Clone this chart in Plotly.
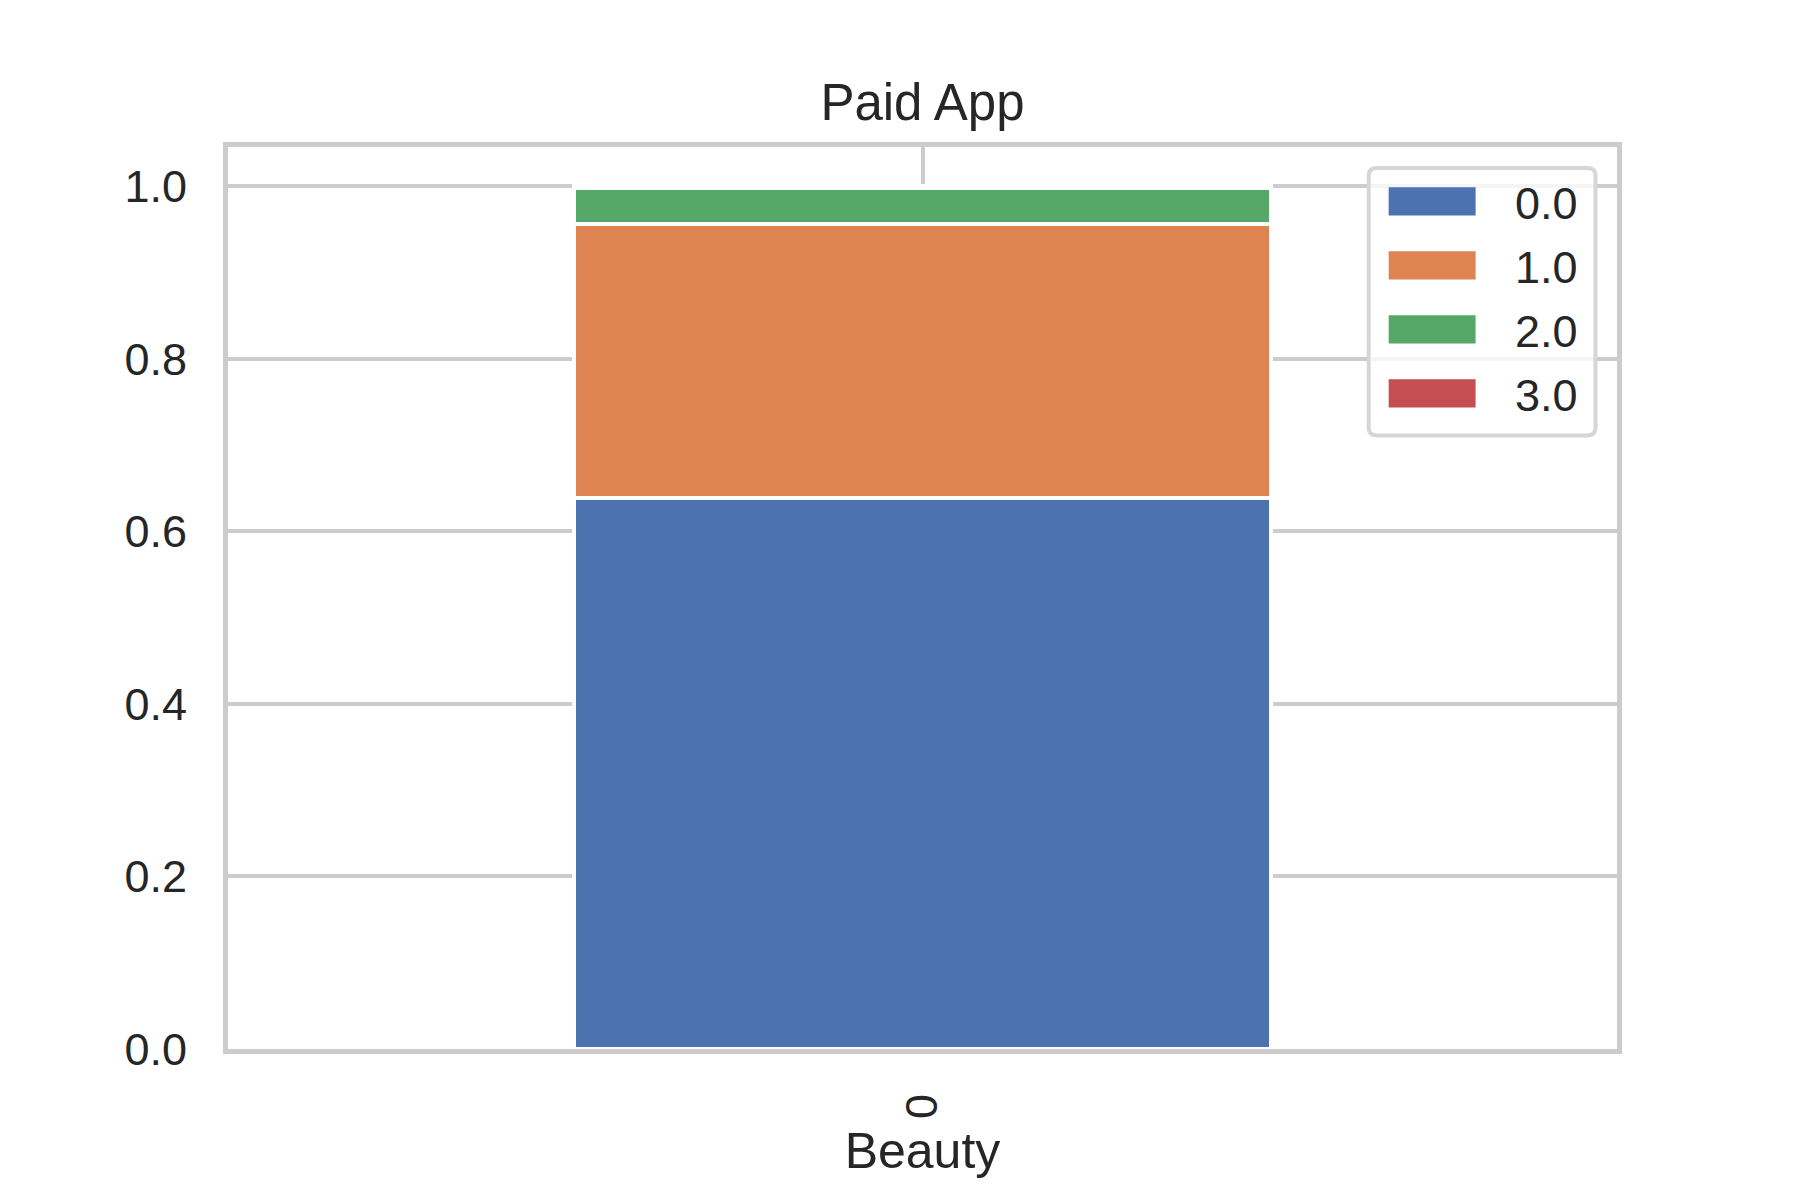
import plotly.graph_objects as go

# ---- data ----
categories = ["0"]
series_names = ["0.0", "1.0", "2.0", "3.0"]
share_0 = [0.639]
share_1 = [0.317]
share_2 = [0.042]
share_3 = [0.002]
series_colors = ["#4C72B0", "#DD8452", "#55A868", "#C44E52"]
y_tick_vals = [0.0, 0.2, 0.4, 0.6, 0.8, 1.0]
y_tick_text = ["0.0", "0.2", "0.4", "0.6", "0.8", "1.0"]
chart_title = "Paid App"
x_title = "Beauty"

# ---- layout geometry (pixels) ----
W, H = 1800, 1200
L, R, T, B = 225, 1620, 144, 1050      # spine centre lines
LW = 5                                   # spine width
HALF = LW / 2
FONT = "Liberation Sans, Arial, sans-serif"
TXT = "#262626"
GRID = "#cccccc"

x_lo, x_hi = -0.5, 0.5
y_lo, y_hi = 0.0, 1.05
x_unit = (R - L) / (x_hi - x_lo)
y_unit = (B - T) / (y_hi - y_lo)

# plot area inset (plotly draws axis lines outside the area)
pL, pR, pT, pB = L + HALF, R - HALF, T + HALF, B - 1.25
x_range = [x_lo + HALF / x_unit, x_hi - HALF / x_unit]
y_range = [y_lo, y_lo + (pB - pT) / y_unit]


def px_x(x):
    return (x - pL) / (pR - pL)


def px_y(y):
    return (pB - y) / (pB - pT)


fig = go.Figure()
for name, vals, col in zip(series_names, [share_0, share_1, share_2, share_3], series_colors):
    fig.add_trace(go.Bar(
        x=categories, y=vals, name=name, width=0.5,
        marker=dict(color=col, line=dict(color="white", width=4)),
        showlegend=False,
    ))

# ---- legend (drawn to match matplotlib's large patches) ----
shapes = []
annotations = []
bx0, bx1 = px_x(1369), px_x(1596)
by_top, by_bot = px_y(167.5), px_y(435)
rx, ry = 8 / (pR - pL), 8 / (pB - pT)
path = (
    f"M{bx0 + rx},{by_top} L{bx1 - rx},{by_top} Q{bx1},{by_top} {bx1},{by_top - ry} "
    f"L{bx1},{by_bot + ry} Q{bx1},{by_bot} {bx1 - rx},{by_bot} "
    f"L{bx0 + rx},{by_bot} Q{bx0},{by_bot} {bx0},{by_bot + ry} "
    f"L{bx0},{by_top - ry} Q{bx0},{by_top} {bx0 + rx},{by_top} Z"
)
shapes.append(dict(type="path", xref="paper", yref="paper", path=path,
                   fillcolor="rgba(255,255,255,0.8)", line=dict(color="#d6d6d6", width=4),
                   layer="above"))
for i, (name, col) in enumerate(zip(series_names, series_colors)):
    top = 186.7 + 64 * i
    bot = 215 + 64 * i
    shapes.append(dict(type="rect", xref="paper", yref="paper",
                       x0=px_x(1389), x1=px_x(1476), y0=px_y(bot), y1=px_y(top),
                       fillcolor=col, line=dict(width=0), layer="above"))
    annotations.append(dict(xref="paper", yref="paper", x=px_x(1580), y=px_y((top + bot) / 2 + 2),
                            xanchor="right", yanchor="middle", text=name, showarrow=False,
                            font=dict(family=FONT, size=45, color=TXT)))

fig.update_layout(
    width=W, height=H,
    barmode="stack",
    paper_bgcolor="white", plot_bgcolor="white",
    margin=dict(l=pL, r=W - pR, t=pT, b=H - pB, autoexpand=False),
    font=dict(family=FONT, color=TXT),
    title=dict(text=chart_title, x=0.5, xref="paper", xanchor="center",
               y=1 - 102 / H, yref="container", yanchor="middle",
               font=dict(family=FONT, size=51, color=TXT)),
    xaxis=dict(type="category", range=x_range, showgrid=True,
               gridcolor=GRID, gridwidth=4,
               showline=True, linecolor=GRID, linewidth=LW, mirror=True, zeroline=False,
               ticks="", tickangle=-90, ticklabelstandoff=22,
               tickfont=dict(family=FONT, size=45, color=TXT),
               title=dict(text=x_title, standoff=16, font=dict(family=FONT, size=50, color=TXT)),
               automargin=False),
    yaxis=dict(range=y_range, tickvals=y_tick_vals, ticktext=y_tick_text,
               showgrid=True, gridcolor=GRID, gridwidth=4,
               showline=True, linecolor=GRID, linewidth=LW, mirror=True, zeroline=False,
               ticks="", ticklabelstandoff=27,
               tickfont=dict(family=FONT, size=45, color=TXT), automargin=False),
    shapes=shapes,
    annotations=annotations,
)

fig.write_html("out.html", config={"displayModeBar": False},
               post_script="document.body.style.margin='0';")
